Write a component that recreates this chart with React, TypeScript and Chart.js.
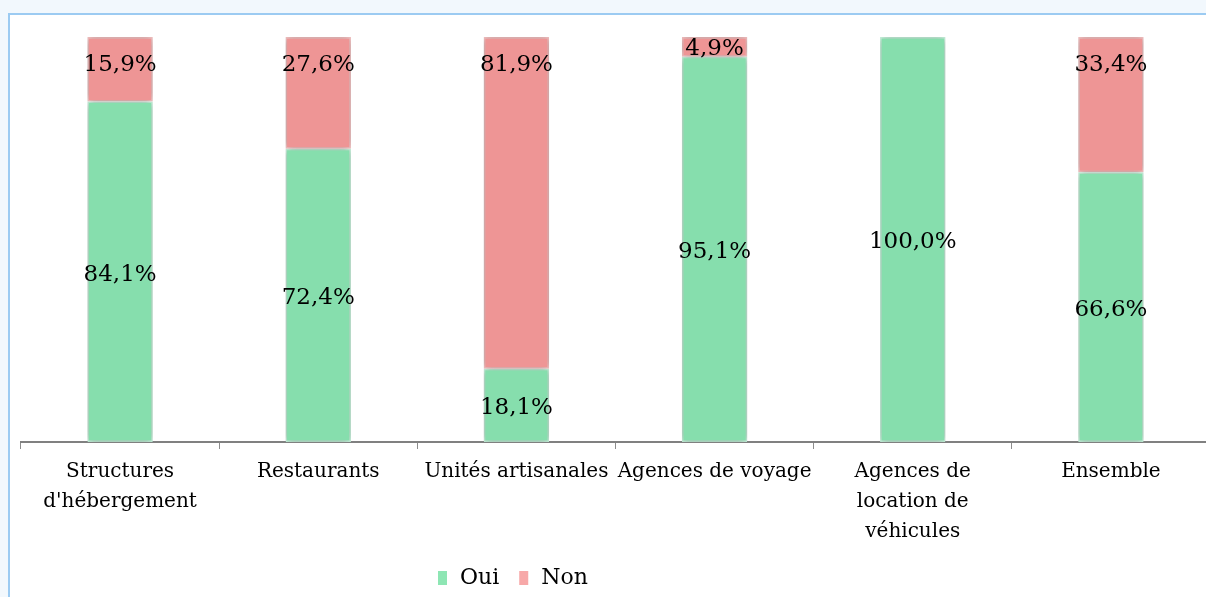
import React, { useEffect, useRef } from "react";
import { Chart, registerables } from "chart.js";
Chart.register(...registerables);

const categories: string[][] = [
  ["Structures", "d'hébergement"],
  ["Restaurants"],
  ["Unités artisanales"],
  ["Agences de voyage"],
  ["Agences de", "location de", "véhicules"],
  ["Ensemble"],
];
const ouiValues = [84.1, 72.4, 18.1, 95.1, 100.0, 66.6];
const nonValues = [15.9, 27.6, 81.9, 4.9, 0, 33.4];
const seriesNames = ["Oui", "Non"];
const seriesColors = ["#86dead", "#ee9595"];
const seriesBorders = ["#c9f7df", "#f9c4c4"];
const legendColors = ["#8ee6b4", "#f7a8a8"];

const FONT = "'DejaVu Serif', serif";
const fmt = (v: number) => v.toFixed(1).replace(".", ",") + "%";

const shadowPlugin = {
  id: "barShadow",
  beforeDatasetsDraw(chart: any) {
    const ctx = chart.ctx;
    ctx.save();
    ctx.shadowColor = "rgba(0,0,0,0.35)";
    ctx.shadowBlur = 8;
    ctx.shadowOffsetX = 0;
    ctx.shadowOffsetY = 0;
  },
  afterDatasetsDraw(chart: any) {
    chart.ctx.restore();
  },
};

const labelPlugin = {
  id: "valueLabels",
  afterDatasetsDraw(chart: any) {
    const ctx = chart.ctx;
    ctx.save();
    ctx.font = `23px ${FONT}`;
    ctx.fillStyle = "#000";
    ctx.textAlign = "center";
    ctx.textBaseline = "middle";
    chart.data.datasets.forEach((ds: any, di: number) => {
      const meta = chart.getDatasetMeta(di);
      meta.data.forEach((bar: any, i: number) => {
        const v = ds.data[i];
        if (!v) return;
        const top = Math.min(bar.y, bar.base);
        const bottom = Math.max(bar.y, bar.base);
        const center = (top + bottom) / 2;
        const y = di === 0 ? center + 3 : Math.min(center, top + 26) + 2;
        ctx.fillText(fmt(v), bar.x, y);
      });
    });
    ctx.restore();
  },
};

const legendPlugin = {
  id: "customLegend",
  afterDraw(chart: any) {
    const ctx = chart.ctx;
    ctx.save();
    ctx.font = `22px ${FONT}`;
    ctx.textAlign = "left";
    ctx.textBaseline = "middle";
    const y = chart.height - 19;
    let x = 428;
    chart.data.datasets.forEach((ds: any, di: number) => {
      ctx.fillStyle = legendColors[di];
      ctx.fillRect(x, y - 7, 9, 14);
      x += 22;
      ctx.fillStyle = "#000";
      ctx.fillText(ds.label, x, y);
      x += ctx.measureText(ds.label).width + 20;
    });
    ctx.restore();
  },
};

export default function App() {
  const ref = useRef<HTMLCanvasElement | null>(null);
  useEffect(() => {
    document.body.style.background = "#f2f8fd";
    document.documentElement.style.overflow = "hidden";
    if (!ref.current) return;
    const chart = new Chart(ref.current, {
      type: "bar",
      data: {
        labels: categories,
        datasets: [0, 1].map((k) => ({
          label: seriesNames[k],
          data: k === 0 ? ouiValues : nonValues,
          backgroundColor: seriesColors[k],
          borderColor: seriesBorders[k],
          borderWidth: 1.5,
          borderSkipped: false,
        })),
      },
      options: {
        animation: false,
        responsive: false,
        maintainAspectRatio: false,
        layout: { padding: { left: 11, right: 10, top: 22, bottom: 40 } },
        datasets: { bar: { barPercentage: 1, categoryPercentage: 0.33 } },
        scales: {
          x: {
            stacked: true,
            grid: {
              display: true,
              drawOnChartArea: false,
              drawTicks: true,
              tickLength: 7,
              color: "#8c8c8c",
              offset: true,
            },
            border: { display: true, color: "#808080", width: 2 },
            ticks: {
              color: "#000",
              font: { family: FONT, size: 20, lineHeight: 1.5 },
              padding: 8,
              maxRotation: 0,
              autoSkip: false,
            },
            afterFit(scale: any) {
              scale.height = 115;
            },
          },
          y: {
            stacked: true,
            display: false,
            min: 0,
            max: 100,
          },
        },
        plugins: {
          legend: { display: false },
          tooltip: { enabled: false },
        },
      },
      plugins: [shadowPlugin, labelPlugin, legendPlugin],
    });
    return () => chart.destroy();
  }, []);

  return (
    <div
      style={{
        position: "fixed",
        left: 8,
        top: 13,
        width: 1198,
        height: 584,
        overflow: "hidden",
        background: "#fff",
      }}
    >
      <div
        style={{
          width: 1230,
          height: 600,
          background: "#fff",
          borderLeft: "2px solid #9ccbf2",
          borderTop: "2px solid #9ccbf2",
        }}
      >
        <canvas ref={ref} width={1210} height={582} style={{ display: "block" }} />
      </div>
    </div>
  );
}
